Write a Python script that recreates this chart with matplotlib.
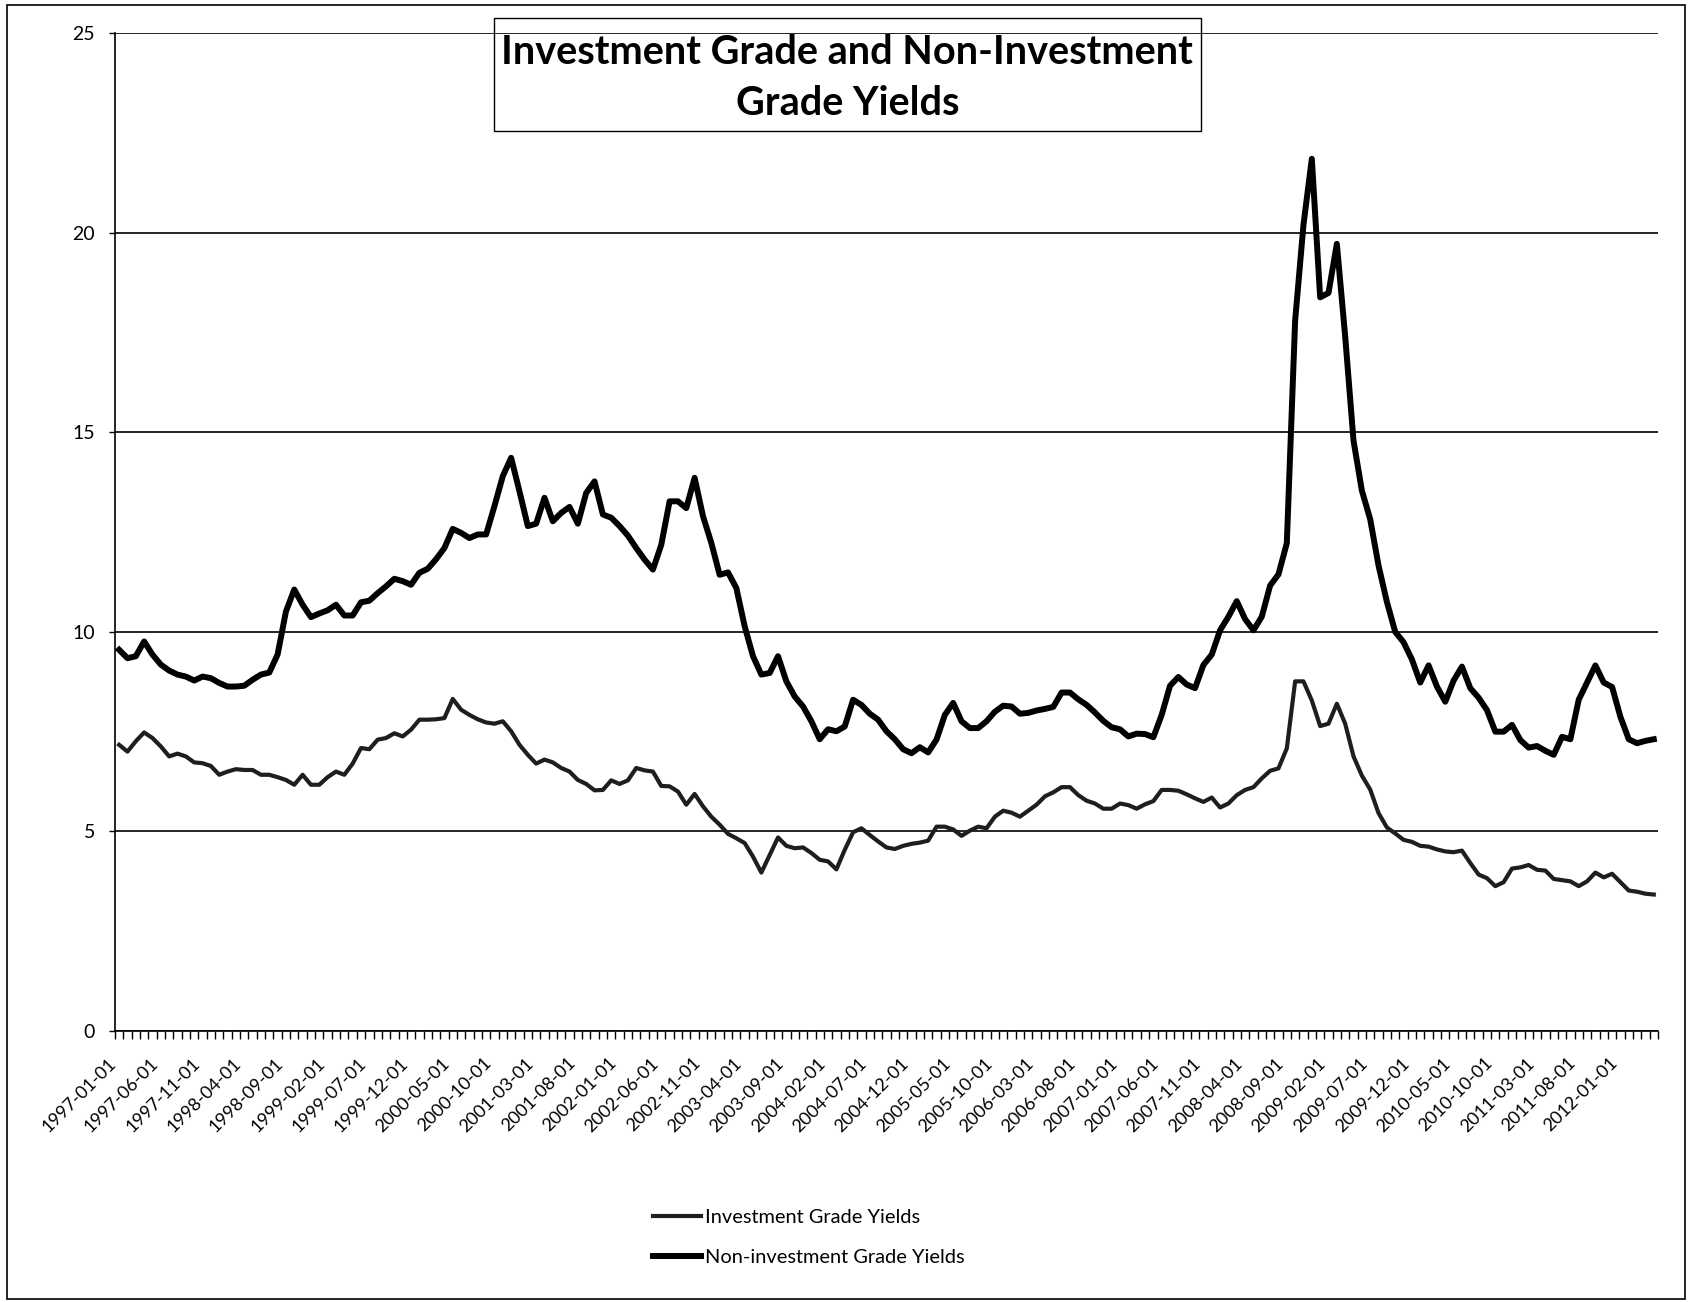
import matplotlib
matplotlib.use("Agg")
import matplotlib.pyplot as plt
import matplotlib.transforms as mtransforms
from matplotlib.patches import Rectangle
import numpy as np
import pandas as pd

plt.rcParams['font.family'] = ['Lato', 'DejaVu Sans']

# monthly categories 1997-01 .. 2012-05
months = pd.date_range('1997-01-01', periods=185, freq='MS').strftime('%Y-%m-%d').tolist()

# Non-investment grade yields (%)
non_ig = [
    9.55, 9.34, 9.39, 9.76, 9.43, 9.18, 9.03, 8.93, 8.88, 8.78,
    8.88, 8.84, 8.72, 8.63, 8.63, 8.65, 8.80, 8.93, 8.98, 9.43,
    10.51, 11.06, 10.68, 10.37, 10.46, 10.54, 10.68, 10.41, 10.41, 10.74,
    10.78, 10.97, 11.14, 11.33, 11.27, 11.18, 11.48, 11.58, 11.82,
    12.10, 12.58, 12.48, 12.35, 12.44, 12.44, 13.15, 13.90, 14.36, 13.52,
    12.65, 12.71, 13.36, 12.77, 12.98, 13.13, 12.71, 13.48, 13.77, 12.94,
    12.86, 12.65, 12.41, 12.10, 11.81, 11.56, 12.18, 13.27, 13.27, 13.10,
    13.86, 12.90, 12.23, 11.43, 11.49, 11.10, 10.14,
    9.39, 8.93, 8.97, 9.39, 8.76, 8.38, 8.13, 7.76, 7.31, 7.56,
    7.51, 7.63, 8.30, 8.17, 7.95, 7.80, 7.51, 7.31, 7.06, 6.96,
    7.11, 6.98, 7.30, 7.92, 8.22, 7.76, 7.59, 7.59, 7.76, 8.00,
    8.15, 8.13, 7.95, 7.97, 8.03, 8.07, 8.12, 8.48,
    8.48, 8.31, 8.17, 7.98, 7.77, 7.61, 7.56, 7.38, 7.45, 7.44,
    7.36, 7.92, 8.65, 8.87, 8.68, 8.59, 9.17, 9.43, 10.04, 10.38,
    10.77, 10.32, 10.04, 10.38, 11.16, 11.44, 12.22, 17.80, 20.20, 21.85,
    18.38, 18.49, 19.72, 17.40,
    14.79, 13.54, 12.82, 11.66, 10.75, 10.00, 9.74, 9.31, 8.73, 9.16,
    8.63, 8.25, 8.78, 9.13, 8.59, 8.35, 8.04, 7.50, 7.50, 7.67,
    7.29, 7.10, 7.14, 7.02, 6.92, 7.37, 7.31, 8.30, 8.73, 9.16,
    8.73, 8.62, 7.87, 7.31, 7.21, 7.27, 7.31,
]

# Investment grade yields (%)
ig = [
    7.17, 7.00, 7.26, 7.48, 7.34, 7.13, 6.88, 6.95, 6.88, 6.73,
    6.71, 6.64, 6.42, 6.50, 6.56, 6.54, 6.54, 6.42, 6.42, 6.36,
    6.29, 6.17, 6.42, 6.17, 6.17, 6.36, 6.50, 6.42, 6.70, 7.09,
    7.06, 7.30, 7.34, 7.46, 7.38, 7.55, 7.80, 7.80, 7.81,
    7.84, 8.32, 8.05, 7.92, 7.81, 7.73, 7.70, 7.76, 7.51, 7.17,
    6.92, 6.70, 6.80, 6.73, 6.59, 6.50, 6.29, 6.19, 6.03, 6.04,
    6.28, 6.19, 6.28, 6.59, 6.53, 6.50, 6.14, 6.13, 6.00, 5.67,
    5.94, 5.63, 5.37, 5.17, 4.94, 4.83, 4.71,
    4.37, 3.97, 4.41, 4.85, 4.64, 4.58, 4.60, 4.46, 4.29, 4.25,
    4.05, 4.54, 4.98, 5.08, 4.91, 4.75, 4.60, 4.56, 4.64, 4.69,
    4.72, 4.77, 5.12, 5.12, 5.05, 4.89, 5.02, 5.12, 5.08, 5.37,
    5.52, 5.47, 5.37, 5.52, 5.67, 5.88, 5.98, 6.11,
    6.11, 5.91, 5.77, 5.70, 5.57, 5.57, 5.70, 5.66, 5.57, 5.68,
    5.76, 6.04, 6.04, 6.02, 5.93, 5.83, 5.74, 5.85, 5.60, 5.70,
    5.91, 6.04, 6.11, 6.33, 6.52, 6.58, 7.08, 8.76, 8.76, 8.28,
    7.64, 7.70, 8.20, 7.70,
    6.88, 6.40, 6.05, 5.46, 5.10, 4.95, 4.79, 4.74, 4.64, 4.62,
    4.55, 4.50, 4.48, 4.52, 4.21, 3.92, 3.83, 3.63, 3.73, 4.07,
    4.10, 4.16, 4.04, 4.02, 3.81, 3.78, 3.75, 3.63, 3.75, 3.97,
    3.85, 3.94, 3.73, 3.52, 3.49, 3.44, 3.42,
]

series_labels = ['Investment Grade Yields', 'Non-investment Grade Yields']
title = 'Investment Grade and Non-Investment\nGrade Yields'
y_ticks = [0, 5, 10, 15, 20, 25]

fig = plt.figure(figsize=(16.88, 13.02), dpi=100)
ax = fig.add_axes([0.0681, 0.2081, 0.9141, 0.7665])

x = np.arange(len(months))
l1, = ax.plot(x, ig, color='#1e1e1e', lw=3.0, solid_joinstyle='round')
l2, = ax.plot(x, non_ig, color='black', lw=4.3, solid_joinstyle='round')

ax.set_xlim(-0.5, len(months) - 0.5)
ax.set_ylim(0, 25)
ax.set_yticks(y_ticks)
ax.set_yticklabels([str(v) for v in y_ticks], fontsize=14)
ax.yaxis.grid(True, color='black', lw=1.2)
ax.set_axisbelow(True)

# tick marks at each category boundary
ax.set_xticks(np.arange(-0.5, len(months), 1))
ax.set_xticklabels([])
ax.tick_params(axis='x', length=6, width=1, direction='out', color='black')
ax.tick_params(axis='y', length=4.5, width=1, pad=10, color='black')

# labels every 5 months, rotated, ending just left of the category centre
lab_tr = ax.get_xaxis_transform() + mtransforms.ScaledTranslation(-11 / 100, -24 / 100, fig.dpi_scale_trans)
for i in x[::5]:
    ax.text(i, 0, months[i], transform=lab_tr, rotation=45, rotation_mode='anchor',
            ha='right', va='top', fontsize=13, clip_on=False)

for s in ['top', 'right']:
    ax.spines[s].set_visible(False)
ax.spines['left'].set_linewidth(1.2)
ax.spines['bottom'].set_linewidth(1.2)

# title in a box
fig.patches.append(Rectangle((494 / 1688, 1 - 131 / 1302), 707 / 1688, 113 / 1302,
                             transform=fig.transFigure, fill=False, ec='black', lw=1.0))
fig.text(0.502, 0.9400, title, ha='center', va='center', fontsize=28.5,
         fontweight='bold', linespacing=1.45)

fig.legend([l1, l2], series_labels, loc='upper left', bbox_to_anchor=(653 / 1688, 1 - 1209 / 1302),
           frameon=False, fontsize=14.4, handlelength=2.42, handletextpad=0.2, labelspacing=1.17,
           borderaxespad=0, borderpad=0)

# outer chart border
fig.patches.append(Rectangle((0.004, 0.002), 0.994, 0.994, transform=fig.transFigure,
                             fill=False, ec='black', lw=1.2))

fig.savefig('out.png', dpi=100, facecolor='white')
